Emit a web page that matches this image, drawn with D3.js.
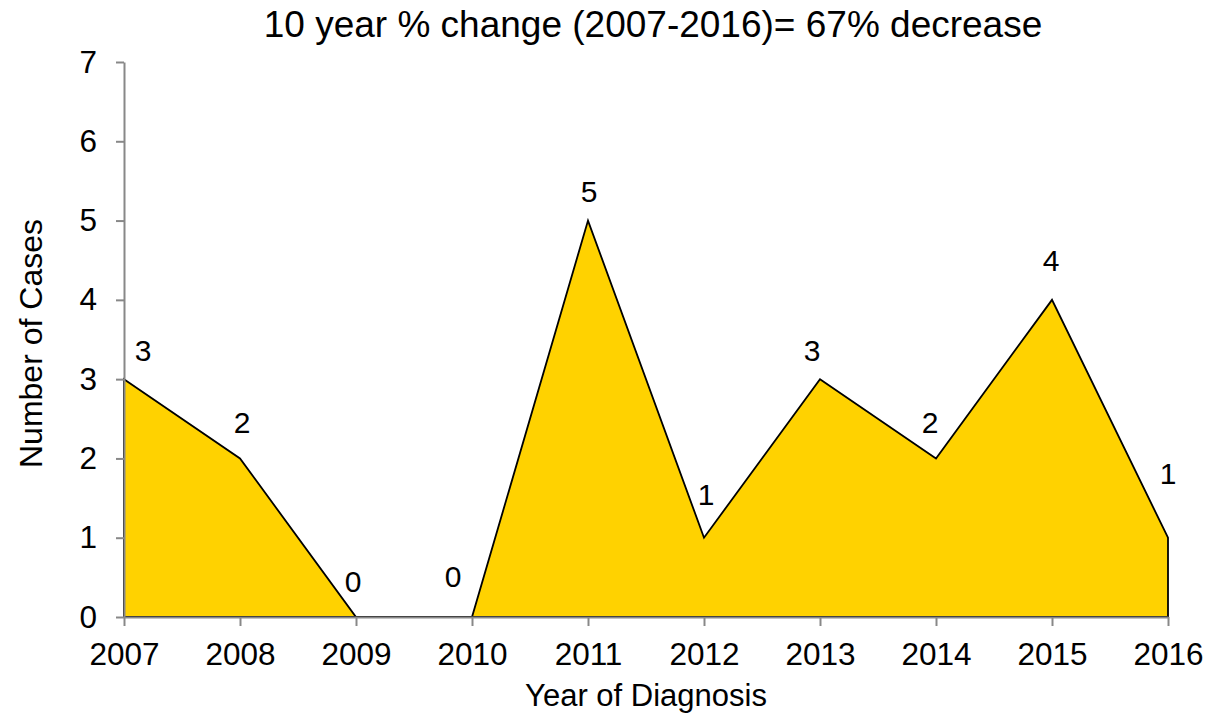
<!DOCTYPE html>
<html>
<head>
<meta charset="utf-8">
<script src="https://cdn.jsdelivr.net/npm/d3@7"></script>
<style>
  html, body { margin: 0; padding: 0; background: #fff; }
  svg { display: block; font-family: "Liberation Sans", Arial, sans-serif; }
</style>
</head>
<body>
<svg id="chart" width="1222" height="715"></svg>
<script>
// ---- data ----
const years = [2007, 2008, 2009, 2010, 2011, 2012, 2013, 2014, 2015, 2016];
const cases = [3, 2, 0, 0, 5, 1, 3, 2, 4, 1];
const yTicks = [0, 1, 2, 3, 4, 5, 6, 7];
const titleText = "10 year % change (2007-2016)= 67% decrease";
const xTitle = "Year of Diagnosis";
const yTitle = "Number of Cases";

// ---- layout (label nudges, px) ----
const labelDx = [19, 2, -3, -19, 1, 2, -8, -6, -1, 0];
const labelDy = [-18, -25, -25, -30, -19, -33, -18, -25, -29, -54];

const margin = { left: 124, right: 1222 - 1168, top: 62, bottom: 715 - 617 };
const svg = d3.select("#chart");
const W = 1222, H = 715;

const x = d3.scalePoint().domain(years).range([margin.left, W - margin.right]);
const y = d3.scaleLinear().domain([0, 7]).range([H - margin.bottom, margin.top]);

const data = years.map((yr, i) => ({ year: yr, v: cases[i], dx: labelDx[i], dy: labelDy[i] }));

// area
const area = d3.area().x(d => x(d.year)).y0(y(0)).y1(d => y(d.v));
svg.append("path")
  .datum(data)
  .attr("d", area)
  .attr("fill", "#FFD200")
  .attr("stroke", "#000")
  .attr("stroke-width", 1.8)
  .attr("stroke-linejoin", "miter");

// axes
const axisColor = "#888888";
const xAxis = svg.append("g")
  .attr("transform", `translate(0,${y(0)})`)
  .call(d3.axisBottom(x).tickSize(9).tickPadding(17).tickSizeOuter(0));
const yAxis = svg.append("g")
  .attr("transform", `translate(${margin.left},0)`)
  .call(d3.axisLeft(y).tickValues(yTicks).tickSize(8).tickPadding(19).tickSizeOuter(0).tickFormat(d3.format("d")));

[xAxis, yAxis].forEach(g => {
  g.selectAll("path.domain").attr("stroke", axisColor).attr("stroke-width", 2);
  g.selectAll(".tick line").attr("stroke", axisColor).attr("stroke-width", 2);
  g.selectAll(".tick text").attr("fill", "#000").style("font-size", "31.5px")
    .style("font-family", "'Liberation Sans', Arial, sans-serif");
});
xAxis.selectAll(".tick text").attr("dy", "0.71em");

// data labels
svg.append("g").selectAll("text")
  .data(data)
  .join("text")
  .attr("x", d => x(d.year) + d.dx)
  .attr("y", d => y(d.v) + d.dy)
  .attr("text-anchor", "middle")
  .style("font-size", "30px")
  .attr("fill", "#000")
  .text(d => d.v);

// title
svg.append("text")
  .attr("x", 653)
  .attr("y", 37)
  .attr("text-anchor", "middle")
  .style("font-size", "37px")
  .attr("fill", "#000")
  .text(titleText);

// axis titles
svg.append("text")
  .attr("x", (x.range()[0] + x.range()[1]) / 2)
  .attr("y", 706)
  .attr("text-anchor", "middle")
  .style("font-size", "31px")
  .attr("fill", "#000")
  .text(xTitle);

svg.append("text")
  .attr("transform", `translate(42,${(y(0) + y(7)) / 2 + 4}) rotate(-90)`)
  .attr("text-anchor", "middle")
  .style("font-size", "32px")
  .attr("fill", "#000")
  .text(yTitle);
</script>
</body>
</html>
